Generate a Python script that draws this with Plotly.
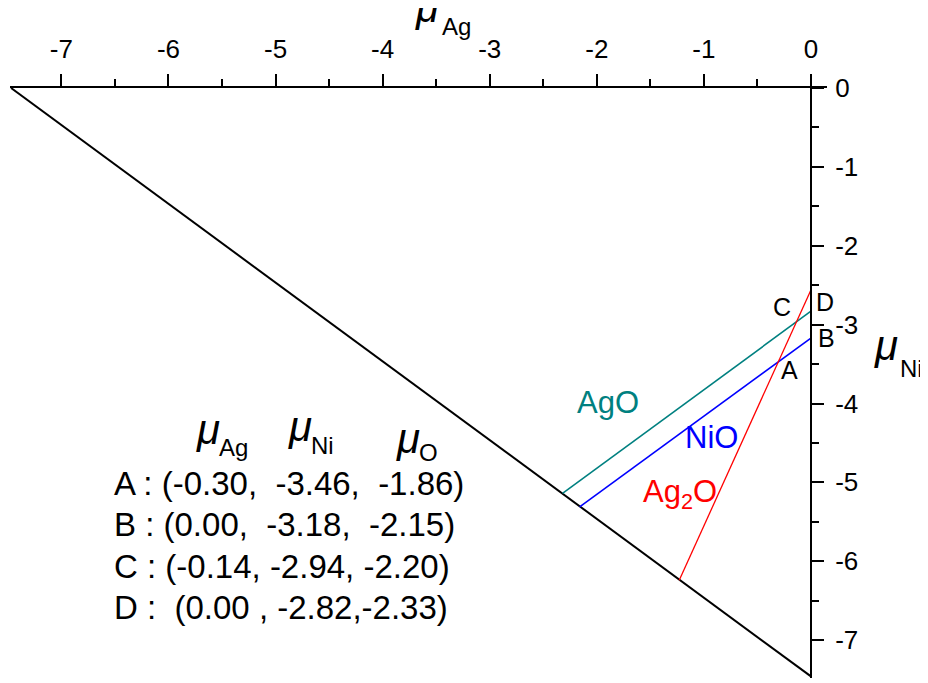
import plotly.graph_objects as go

# ---- data ----
boundary_ag = [-7.47, 0.0]
boundary_ni = [0.0, -7.46]

ag2o_ag = [0.0, -1.23]
ag2o_ni = [-2.56, -6.24]

ago_ag = [0.0, -2.32]
ago_ni = [-2.83, -5.14]

nio_ag = [0.0, -2.16]
nio_ni = [-3.17, -5.31]

point_names = ["A", "B", "C", "D"]
point_ag = [-0.30, 0.00, -0.14, 0.00]
point_ni = [-3.46, -3.18, -2.94, -2.82]
point_o = [-1.86, -2.15, -2.20, -2.33]
row_texts = [
    "A : (-0.30,\u00a0 -3.46,\u00a0 -1.86)",
    "B : (0.00,\u00a0 -3.18,\u00a0 -2.15)",
    "C : (-0.14, -2.94, -2.20)",
    "D :\u00a0 (0.00 , -2.82,-2.33)",
]

x_tickvals = [-7, -6, -5, -4, -3, -2, -1, 0]
x_ticktext = ["-7", "-6", "-5", "-4", "-3", "-2", "-1", "0"]
y_tickvals = [0, -1, -2, -3, -4, -5, -6, -7]
y_ticktext = ["0", "-1", "-2", "-3", "-4", "-5", "-6", "-7"]

FONT = "Liberation Sans, Arial, sans-serif"
TEAL = "#008080"

OFF = 8  # page body margin
W, H = 928 - OFF, 683 - OFF
ML, MR, MT, MB = 10 - OFF, 101, 88 - OFF, 5
XR = [-7.48, 0.15]
YR = [-7.48, 0.0]

fig = go.Figure()
fig.add_trace(go.Scatter(x=boundary_ag, y=boundary_ni, mode="lines",
                         line=dict(color="black", width=2), hoverinfo="skip"))
fig.add_trace(go.Scatter(x=ago_ag, y=ago_ni, mode="lines",
                         line=dict(color=TEAL, width=1.6), hoverinfo="skip"))
fig.add_trace(go.Scatter(x=nio_ag, y=nio_ni, mode="lines",
                         line=dict(color="blue", width=1.6), hoverinfo="skip"))
fig.add_trace(go.Scatter(x=ag2o_ag, y=ag2o_ni, mode="lines",
                         line=dict(color="red", width=1.3), hoverinfo="skip"))

ann = []
# point labels
shifts = {"A": (11, -9), "B": (16, 1), "C": (-14, 13), "D": (14, 8)}
for n, xa, yn in zip(point_names, point_ag, point_ni):
    dx, dy = shifts[n]
    ann.append(dict(x=xa, y=yn, xref="x", yref="y", text=n, showarrow=False,
                    xshift=dx, yshift=dy, font=dict(size=25, color="black", family=FONT)))

def px2paper(px, py):
    px -= OFF
    py -= OFF
    return (px - ML) / (W - ML - MR), 1 - (py - MT) / (H - MT - MB)

def add_px(px, py, text, size, color="black", xanchor="center", yanchor="middle"):
    xp, yp = px2paper(px, py)
    ann.append(dict(x=xp, y=yp, xref="paper", yref="paper", text=text, showarrow=False,
                    xanchor=xanchor, yanchor=yanchor,
                    font=dict(size=size, color=color, family=FONT)))

MU_SIZE = 42

def add_mu(mx, my, sub, sx, sy):
    add_px(mx, my, "<i>μ</i>", MU_SIZE)
    add_px(sx, sy, sub, 24)

# phase labels
add_px(608, 402, "AgO", 31, TEAL)
add_px(711, 437, "NiO", 31, "blue")
add_px(680, 494, "Ag<sub>2</sub>O", 31, "red")

# axis titles
add_mu(427, 8, "Ag", 456, 27)
add_mu(885.5, 345.5, "Ni", 911, 369)

# table header
add_mu(207.5, 429, "Ag", 233.5, 447.5)
add_mu(299.5, 426, "Ni", 322.5, 445.5)
add_mu(407.5, 438, "O", 428.5, 452.5)
row_y = [483, 524, 566, 607]
for t, ry in zip(row_texts, row_y):
    add_px(112, ry, t, 33, xanchor="left")

fig.update_layout(
    width=W, height=H,
    margin=dict(l=ML, r=MR, t=MT, b=MB),
    paper_bgcolor="white", plot_bgcolor="white",
    showlegend=False,
    annotations=ann,
    font=dict(family=FONT, color="black"),
    xaxis=dict(
        range=XR, side="top", anchor="y", showgrid=False, zeroline=False,
        showline=True, linecolor="black", linewidth=2,
        tickmode="array", tickvals=x_tickvals, ticktext=x_ticktext,
        ticks="outside", ticklen=12, tickwidth=2, tickcolor="black",
        ticklabelstandoff=6,
        tickfont=dict(size=26, family=FONT, color="black"),
        minor=dict(dtick=0.5, tick0=0, ticks="outside", ticklen=7, tickwidth=2, tickcolor="black"),
    ),
    yaxis=dict(
        range=YR, side="right", anchor="free",
        position=(0 - XR[0]) / (XR[1] - XR[0]),
        showgrid=False, zeroline=False,
        showline=True, linecolor="black", linewidth=2,
        tickmode="array", tickvals=y_tickvals, ticktext=y_ticktext,
        ticks="outside", ticklen=12, tickwidth=2, tickcolor="black",
        ticklabelstandoff=6,
        tickfont=dict(size=26, family=FONT, color="black"),
        minor=dict(dtick=0.5, tick0=0, ticks="outside", ticklen=7, tickwidth=2, tickcolor="black"),
    ),
)

fig.write_html("out.html")
